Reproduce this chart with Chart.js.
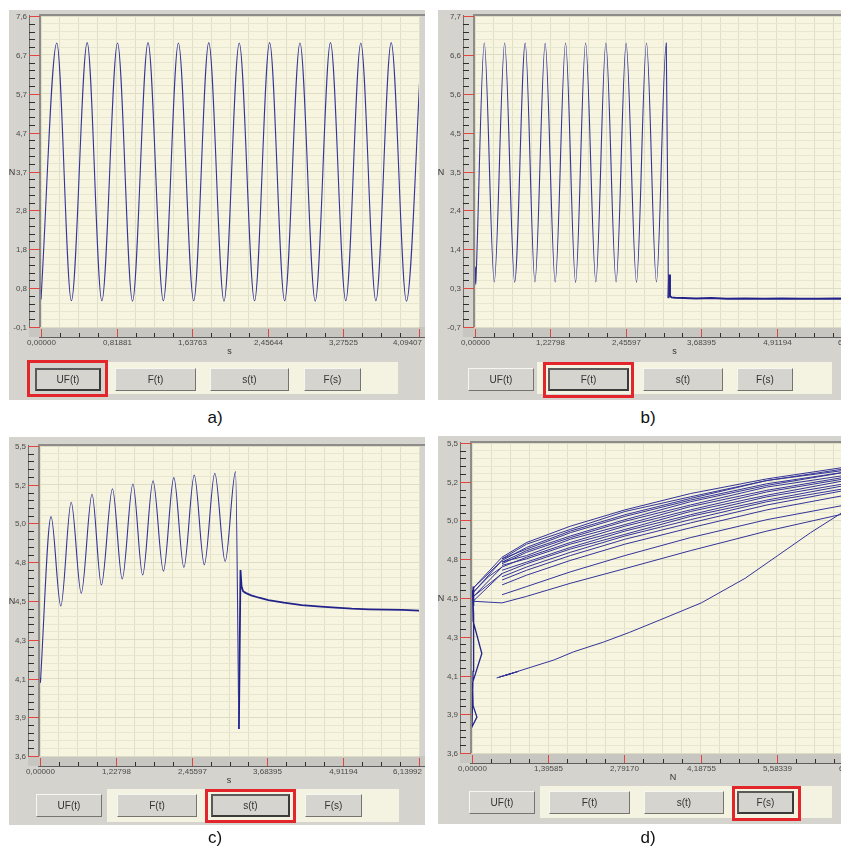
<!DOCTYPE html>
<html lang="en">
<head>
<meta charset="UTF-8">
<title>UF(t), F(t), s(t), F(s)</title>
<script src="https://cdnjs.cloudflare.com/ajax/libs/Chart.js/4.4.0/chart.umd.min.js"></script>
<style>
  body { margin: 0; background: #fff; font-family: "Liberation Sans", Arial, sans-serif; }
  #page { position: relative; width: 841px; height: 849px; overflow: hidden; }
  .panel { position: absolute; background: #d5d3cd; }
  .panel canvas { position: absolute; left: 0; top: 0; }
  .bar { position: absolute; background: #f4f2e0; }
  .btn { position: absolute; box-sizing: border-box; background: #d6d4ce; border: 1px solid;
         border-color: #f6f6f2 #76746f #76746f #f6f6f2; font-size: 10px; color: #333;
         display: flex; align-items: center; justify-content: center; }
  .btn.on { border: 2px solid #3a3a38; border-top-color: #5a5a58; border-left-color: #5a5a58; }
  .mark { position: absolute; box-sizing: border-box; border: 3px solid #e3262b; }
  .cap { position: absolute; font-size: 17px; color: #111; transform: translate(-50%, -50%); }
</style>
</head>
<body>
<div id="page"></div>

<script>
// ---- tick labels ----
const xLabelsA = ['0,00000', '0,81881', '1,63763', '2,45644', '3,27525', '4,09407'];
const xLabelsB = ['0,00000', '1,22798', '2,45597', '3,68395', '4,91194', '6,13992'];
const xLabelsD = ['0,00000', '1,39585', '2,79170', '4,18755', '5,58339', '6,97924'];
const yLabelsA = ['-0,1', '0,8', '1,8', '2,8', '3,7', '4,7', '5,7', '6,7', '7,6'];
const yLabelsB = ['-0,7', '0,3', '1,4', '2,4', '3,5', '4,5', '5,6', '6,6', '7,7'];
const yLabelsC = ['3,6', '3,9', '4,1', '4,3', '4,5', '4,8', '5,0', '5,2', '5,5'];

// ---- a) UF(t): turning points of the signal (s / N) ----
const ufTime  = [0, 0.171, 0.329, 0.500, 0.659, 0.829, 0.991, 1.159, 1.325, 1.488, 1.654, 1.817, 1.982,
                 2.147, 2.313, 2.476, 2.639, 2.805, 2.970, 3.135, 3.301, 3.464, 3.627, 3.793, 3.958, 4.122];
const ufForce = [0.58, 6.93, 0.55, 6.94, 0.55, 6.93, 0.54, 6.94, 0.55, 6.93, 0.55, 6.94, 0.54,
                 6.93, 0.55, 6.94, 0.55, 6.93, 0.54, 6.94, 0.55, 6.93, 0.55, 6.94, 0.54, 6.93];

// ---- b) F(t) ----
const fTime  = [0, 0.006, 0.012, 0.020, 0.151, 0.314, 0.483, 0.646, 0.818, 0.976, 1.143, 1.306,
                1.475, 1.638, 1.801, 1.968, 2.131, 2.298, 2.461, 2.630, 2.793, 2.955, 3.115, 3.150];
const fForce = [0.50, 0.92, 0.45, 0.75, 6.97, 0.52, 6.97, 0.51, 6.97, 0.52, 6.96, 0.52,
                6.97, 0.51, 6.97, 0.52, 6.97, 0.52, 6.96, 0.51, 6.97, 0.52, 6.97, 0.08];
const fTailTime  = [3.150, 3.162, 3.175, 3.20, 3.26, 3.40, 3.60, 3.85, 4.10, 4.40, 4.70, 5.00, 5.30, 5.60, 5.90, 6.20];
const fTailForce = [0.08, 0.72, 0.14, 0.10, 0.09, 0.08, 0.07, 0.08, 0.06, 0.07, 0.06, 0.07, 0.06, 0.06, 0.07, 0.06];

// ---- c) s(t) ----
const sTime = [0, 0.008, 0.016, 0.179, 0.337, 0.505, 0.668, 0.843, 0.994, 1.174, 1.332, 1.505,
               1.663, 1.831, 2.000, 2.168, 2.331, 2.499, 2.662, 2.832, 3.000, 3.168, 3.222];
const sPos  = [4.08, 4.05, 4.11, 5.067, 4.519, 5.155, 4.597, 5.204, 4.648, 5.238, 4.685, 5.267,
               4.709, 5.287, 4.733, 5.306, 4.756, 5.322, 4.772, 5.333, 4.792, 5.343, 3.765];
const sTailTime = [3.222, 3.248, 3.265, 3.29, 3.33, 3.42, 3.55, 3.70, 3.95, 4.24, 4.55, 4.79, 5.05, 5.33, 5.60, 5.87, 6.17];
const sTailPos  = [3.765, 4.74, 4.64, 4.61, 4.60, 4.585, 4.57, 4.556, 4.54, 4.525, 4.515, 4.509, 4.503, 4.499, 4.497, 4.495, 4.49];

// ---- d) F(s) ----
const fsN = [0.55, 1.0, 1.8, 2.8, 4.0, 5.4, 7.0];
const fsLoops = [
  [4.80, 4.89, 4.99, 5.09, 5.19, 5.28, 5.36],
  [4.79, 4.88, 4.97, 5.08, 5.17, 5.27, 5.35],
  [4.78, 4.86, 4.96, 5.06, 5.16, 5.27, 5.34],
  [4.79, 4.85, 4.95, 5.05, 5.15, 5.25, 5.33],
  [4.77, 4.84, 4.93, 5.03, 5.14, 5.24, 5.33],
  [4.76, 4.83, 4.92, 5.02, 5.12, 5.23, 5.31],
  [4.77, 4.81, 4.91, 5.00, 5.11, 5.21, 5.30],
  [4.74, 4.80, 4.89, 4.99, 5.09, 5.20, 5.29],
  [4.75, 4.79, 4.88, 4.97, 5.08, 5.18, 5.28],
  [4.72, 4.77, 4.86, 4.96, 5.06, 5.17, 5.26],
  [4.70, 4.76, 4.85, 4.94, 5.05, 5.15, 5.25],
  [4.68, 4.74, 4.83, 4.93, 5.03, 5.14, 5.23],
  [4.66, 4.72, 4.81, 4.91, 5.01, 5.12, 5.22],
  [4.63, 4.69, 4.78, 4.88, 4.98, 5.09, 5.19],
  [4.57, 4.62, 4.71, 4.81, 4.92, 5.03, 5.13],
  [4.52, 4.56, 4.64, 4.73, 4.84, 4.96, 5.08]
];
const fsColumnN = [0.02, 0.03, 0.01, 0.02, 0.18, 0.01, 0.02, 0.09, 0.00, 0.02, 0.03, 0.01, 0.02];
const fsColumnS = [4.62, 4.50, 4.60, 4.41, 4.21, 4.03, 3.89, 3.82, 3.76, 4.10, 4.45, 4.58, 4.55];
const fsLinkN = [0.55, 0.02, 0.55, 0.01, 0.30, 0.55, 0.03, 0.55, 0.02, 0.55];
const fsLinkS = [4.80, 4.61, 4.78, 4.58, 4.68, 4.74, 4.56, 4.70, 4.53, 4.52];
const fsLowN = [0.45, 0.75, 0.50, 0.85, 0.60, 1.12, 1.50, 1.86, 2.41, 2.89, 3.44, 4.20, 5.00, 5.60, 6.20, 7.00];
const fsLowS = [4.06, 4.09, 4.065, 4.10, 4.075, 4.13, 4.17, 4.22, 4.28, 4.34, 4.415, 4.52, 4.67, 4.81, 4.95, 5.12];

const buttonNames = ['UF(t)', 'F(t)', 's(t)', 'F(s)'];

const LINE = '#34349a';
const pts = (xs, ys) => xs.map((v, i) => ({ x: v, y: ys[i] }));

// axes, tick marks and labels drawn on the library's scales
const axisFrame = {
  id: 'axisFrame',
  beforeDraw(chart) {
    const { ctx, chartArea: a, width } = chart;
    ctx.save();
    ctx.fillStyle = '#d5d3cd';
    ctx.fillRect(0, 0, chart.width, chart.height);
    ctx.fillStyle = '#c8c6c0';
    ctx.fillRect(a.left - 12, a.bottom, width, 10);
    ctx.fillStyle = '#f7f5df';
    ctx.fillRect(a.left, a.top, a.right - a.left, a.bottom - a.top);
    ctx.restore();
  },
  afterDraw(chart, args, o) {
    const { ctx, chartArea: a, width } = chart;
    const x = chart.scales.x, y = chart.scales.y;
    ctx.save();
    // plot border
    ctx.strokeStyle = '#8d8c88';
    ctx.lineWidth = 2;
    ctx.beginPath();
    ctx.moveTo(a.left - 1, a.bottom);
    ctx.lineTo(a.left - 1, a.top - 1);
    ctx.lineTo(width, a.top - 1);
    ctx.stroke();

    ctx.lineWidth = 1;
    ctx.font = '8px "Liberation Sans", Arial, sans-serif';
    ctx.fillStyle = '#4a4a4a';

    // y axis
    const ax = a.left - 12;
    ctx.strokeStyle = '#6e6e6e';
    ctx.beginPath(); ctx.moveTo(ax + 0.5, a.top - 1); ctx.lineTo(ax + 0.5, a.bottom); ctx.stroke();
    ctx.textAlign = 'right';
    ctx.textBaseline = 'middle';
    y.ticks.forEach((t, i) => {
      const py = Math.round(y.getPixelForValue(t.value)) + 0.5;
      const major = i % 5 === 0;
      ctx.strokeStyle = major ? '#e0463f' : '#2e2e2e';
      ctx.beginPath(); ctx.moveTo(ax, py); ctx.lineTo(ax + (major ? 11 : 6), py); ctx.stroke();
      if (major) ctx.fillText(o.yLabels[i / 5], ax - 2, py);
    });
    ctx.save();
    ctx.font = '9px "Liberation Sans", Arial, sans-serif';
    ctx.textAlign = 'center';
    ctx.fillStyle = '#333';
    ctx.fillText(o.yTitle, 3, (a.top + a.bottom) / 2 + 1);
    ctx.restore();

    // x axis
    const ay = a.bottom + 10;
    ctx.strokeStyle = '#5e5e5e';
    ctx.beginPath(); ctx.moveTo(a.left - 2, ay + 0.5); ctx.lineTo(width, ay + 0.5); ctx.stroke();
    ctx.textBaseline = 'middle';
    x.ticks.forEach((t, i) => {
      const px = Math.round(x.getPixelForValue(t.value)) + 0.5;
      const major = i % 4 === 0;
      ctx.strokeStyle = major ? '#e0463f' : '#2e2e2e';
      ctx.beginPath(); ctx.moveTo(px, major ? a.bottom + 2 : ay - 4); ctx.lineTo(px, ay); ctx.stroke();
      if (major) {
        const label = o.xLabels[i / 4];
        const w = ctx.measureText(label).width;
        let lx = px - w / 2;
        if (lx + w > o.xClamp) lx = o.xClamp - w;
        ctx.textAlign = 'left';
        ctx.fillText(label, lx, ay + 6);
      }
    });
    ctx.textAlign = 'center';
    ctx.font = '9px "Liberation Sans", Arial, sans-serif';
    ctx.fillStyle = '#333';
    ctx.fillText(o.xTitle, (a.left + o.xClamp) / 2 - 2, ay + 15);
    ctx.restore();
  }
};

function evenTicks(n) {
  return function (scale) {
    const step = (scale.max - scale.min) / n;
    const t = [];
    for (let k = 0; k <= n; k++) t.push({ value: scale.min + k * step });
    scale.ticks = t;
  };
}

function makePanel(p) {
  const page = document.getElementById('page');
  const div = document.createElement('div');
  div.className = 'panel';
  Object.assign(div.style, { left: p.left + 'px', top: p.top + 'px', width: p.w + 'px', height: p.h + 'px' });
  const cv = document.createElement('canvas');
  cv.width = p.w; cv.height = p.h;
  cv.style.width = p.w + 'px'; cv.style.height = p.h + 'px';
  div.appendChild(cv);
  page.appendChild(div);

  new Chart(cv, {
    type: 'line',
    data: { datasets: p.datasets },
    options: {
      responsive: false,
      devicePixelRatio: 1,
      animation: false,
      events: [],
      layout: { padding: p.pad },
      elements: { point: { radius: 0 }, line: { borderColor: LINE, borderWidth: 1 } },
      plugins: {
        legend: { display: false },
        tooltip: { enabled: false },
        axisFrame: { xLabels: p.xLabels, yLabels: p.yLabels, xTitle: p.xTitle, yTitle: 'N', xClamp: p.xClamp }
      },
      scales: {
        x: {
          type: 'linear', min: 0, max: p.xMax,
          afterBuildTicks: evenTicks(20),
          ticks: { display: false },
          border: { display: false },
          grid: { drawTicks: false, color: '#e0dfc8', lineWidth: 1 }
        },
        y: {
          type: 'linear', min: p.yMin, max: p.yMax,
          afterBuildTicks: evenTicks(40),
          ticks: { display: false },
          border: { display: false },
          grid: { drawTicks: false, lineWidth: 1,
                  color: c => (c.index % 5 === 0 ? '#dddcc4' : '#e7e6d0') }
        }
      }
    },
    plugins: [axisFrame]
  });

  // button strip
  const bar = document.createElement('div');
  bar.className = 'bar';
  Object.assign(bar.style, { left: p.bar[0] + 'px', top: p.bar[1] + 'px', width: p.bar[2] + 'px', height: p.bar[3] + 'px' });
  page.appendChild(bar);
  p.buttons.forEach((b, i) => {
    const el = document.createElement('div');
    el.className = 'btn' + (i === p.active ? ' on' : '');
    el.textContent = buttonNames[i];
    Object.assign(el.style, { left: b[0] + 'px', top: p.btnTop + 'px', width: b[1] + 'px', height: '23px' });
    page.appendChild(el);
  });
  const m = document.createElement('div');
  m.className = 'mark';
  Object.assign(m.style, { left: p.mark[0] + 'px', top: p.mark[1] + 'px', width: p.mark[2] + 'px', height: p.mark[3] + 'px' });
  page.appendChild(m);
  const cap = document.createElement('div');
  cap.className = 'cap';
  cap.textContent = p.cap;
  Object.assign(cap.style, { left: p.capPos[0] + 'px', top: p.capPos[1] + 'px' });
  page.appendChild(cap);
}

const wave = (xs, ys, w) => ({ data: pts(xs, ys), cubicInterpolationMode: 'monotone', borderWidth: w || 1.1 });
const straight = (xs, ys, w, c) => ({ data: pts(xs, ys), tension: 0, borderWidth: w || 1, borderColor: c || LINE });

// a) UF(t)
makePanel({
  left: 9, top: 10, w: 416, h: 390, pad: { left: 32, top: 6, right: 6, bottom: 73 },
  xMax: 4.09407, yMin: -0.1, yMax: 7.6, xLabels: xLabelsA, yLabels: yLabelsA, xTitle: 's', xClamp: 413,
  datasets: [wave(ufTime, ufForce)],
  bar: [108, 362, 290, 32], btnTop: 368, buttons: [[35, 66], [115, 81], [210, 79], [304, 57]],
  active: 0, mark: [27, 360, 81, 37], cap: 'a)', capPos: [215, 418]
});

// b) F(t)
makePanel({
  left: 438, top: 10, w: 430, h: 390, pad: { left: 37, top: 6, right: 16, bottom: 73 },
  xMax: 6.13992, yMin: -0.7, yMax: 7.7, xLabels: xLabelsB, yLabels: yLabelsB, xTitle: 's', xClamp: 440,
  datasets: [wave(fTime, fForce), straight(fTailTime, fTailForce, 2, '#22228a')],
  bar: [537, 362, 295, 32], btnTop: 368, buttons: [[468, 66], [548, 81], [643, 80], [737, 56]],
  active: 1, mark: [543, 362, 91, 36], cap: 'b)', capPos: [648, 418]
});

// c) s(t)
makePanel({
  left: 9, top: 437, w: 416, h: 388, pad: { left: 31, top: 9, right: 6, bottom: 69 },
  xMax: 6.13992, yMin: 3.6, yMax: 5.5, xLabels: xLabelsB, yLabels: yLabelsC, xTitle: 's', xClamp: 413,
  datasets: [wave(sTime, sPos), straight(sTailTime, sTailPos, 1.8, '#22228a')],
  bar: [107, 789, 292, 33], btnTop: 794, buttons: [[36, 66], [117, 80], [211, 79], [305, 57]],
  active: 2, mark: [205, 789, 91, 34], cap: 'c)', capPos: [215, 838]
});

// d) F(s)
const fsSets = fsLoops.map(row => straight(fsN, row, 1));
fsSets.push(straight(fsColumnN, fsColumnS, 1.3, '#22228a'));
fsSets.push(straight(fsLinkN, fsLinkS, 1));
fsSets.push(straight(fsLowN, fsLowS, 1));
makePanel({
  left: 438, top: 436, w: 430, h: 388, pad: { left: 34, top: 7, right: 15, bottom: 71 },
  xMax: 6.97924, yMin: 3.6, yMax: 5.5, xLabels: xLabelsD, yLabels: yLabelsC, xTitle: 'N', xClamp: 440,
  datasets: fsSets,
  bar: [540, 786, 292, 32], btnTop: 791, buttons: [[469, 66], [549, 81], [644, 80], [737, 57]],
  active: 3, mark: [732, 786, 69, 35], cap: 'd)', capPos: [648, 838]
});
</script>
</body>
</html>
